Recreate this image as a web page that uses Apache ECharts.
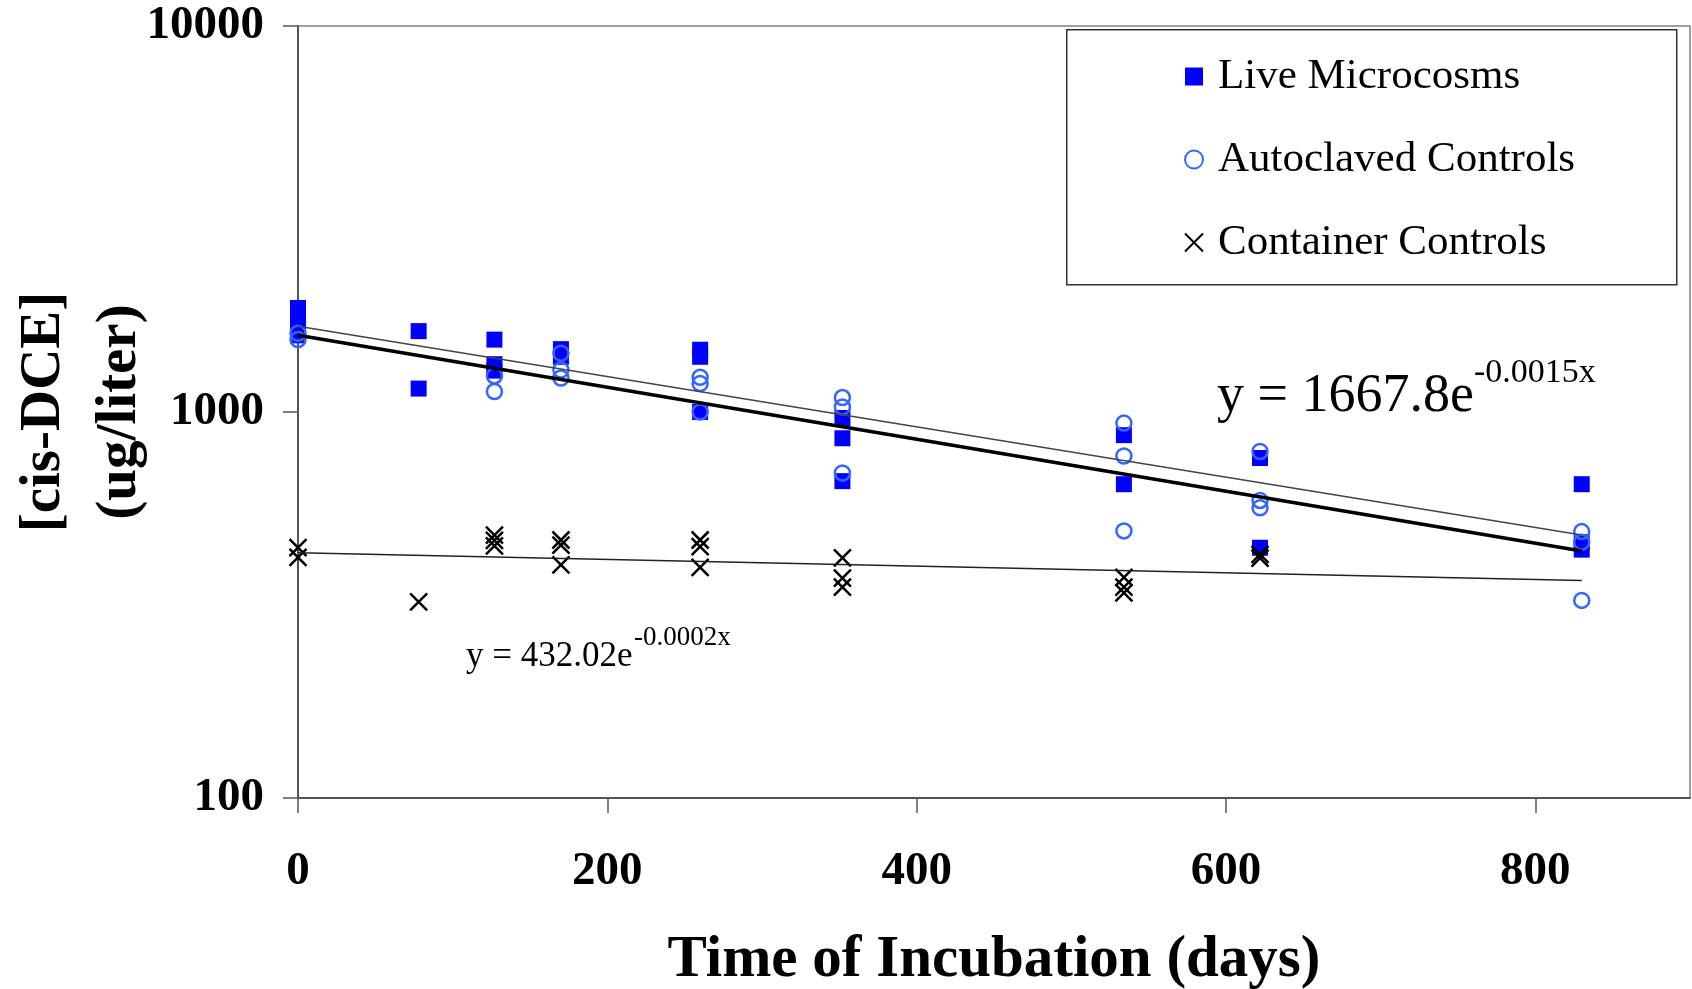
<!DOCTYPE html>
<html><head><meta charset="utf-8">
<script src="https://cdn.jsdelivr.net/npm/echarts@6/dist/echarts.min.js"></script>
<style>html,body{margin:0;padding:0;background:#fff}#c{width:1692px;height:989px}</style>
</head><body><div id="c"></div>
<script>
// ---- data ----
const xTicks = [0, 200, 400, 600, 800];
const yTicks = [100, 1000, 10000];

const liveDays   = [0,0,0, 78,78, 127,127,127, 170,170, 260,260,260, 352,352,352, 534,534, 622,622, 830,830,830];
const liveValues = [1860,1720,1580, 1620,1150, 1540,1330,1280, 1455,1390, 1450,1390,1000, 965,855,662, 871,650, 760,445, 650,460,440];

const autoDays   = [0,0, 127,127, 170,170,170, 260,260,260, 352,352,352, 534,534,534, 622,622,622, 830,830,830];
const autoValues = [1600,1540, 1240,1130, 1420,1285,1225, 1230,1185,1000, 1090,1030,695, 936,769,492, 790,590,565, 490,460,325];

const contDays   = [0,0, 78, 127,127,127, 170,170,170, 260,260,260, 352,352,352, 534,534,534, 622,622];
const contValues = [445,420, 322, 480,465,450, 466,452,402, 466,448,396, 419,371,352, 373,352,340, 428,418];

// exponential fits y = a * e^(b x), drawn over the fitted day range
const fitRange = [0, 830];
const liveFit = [1667.8, -0.0015];
const autoFit = [1580, -0.00155];
const contFit = [432.02, -0.0002];

const pairs = (xs, ys) => xs.map((x, i) => [x, ys[i]]);
const fitLine = f => fitRange.map(x => [x, f[0] * Math.exp(f[1] * x)]);

const FONT = "'Liberation Serif','Times New Roman',serif";
const chart = echarts.init(document.getElementById('c'), null, {renderer: 'canvas'});

chart.setOption({
  backgroundColor: '#fff',
  animation: false,
  grid: {left: 298, right: 2, top: 26, bottom: 191, containLabel: false, outerBoundsMode: 'none',
         show: true, borderColor: '#808080', borderWidth: 1.5},
  legend: {
    orient: 'vertical', left: 1179, top: 50, itemGap: 40,
    itemWidth: 18, itemHeight: 18,
    textStyle: {fontFamily: FONT, fontSize: 43, color: '#000', lineHeight: 43, padding: [0, 0, 0, 10]},
    data: ['Live Microcosms', 'Autoclaved Controls', 'Container Controls']
  },
  xAxis: {
    type: 'value', min: 0, max: 900, interval: 200,
    name: 'Time of Incubation (days)', nameLocation: 'middle', nameGap: 133, nameMoveOverlap: false,
    nameTextStyle: {fontFamily: FONT, fontSize: 59, fontWeight: 'bold', color: '#000'},
    axisLine: {lineStyle: {color: '#555', width: 2}},
    axisTick: {length: 15, lineStyle: {color: '#555', width: 1.5}, customValues: xTicks},
    axisLabel: {customValues: xTicks, margin: 50, fontFamily: FONT, fontSize: 47, fontWeight: 'bold', color: '#000'},
    splitLine: {show: false}
  },
  yAxis: {
    type: 'log', logBase: 10, min: 100, max: 10000,
    name: '[cis-DCE]\n(ug/liter)', nameLocation: 'middle', nameRotate: 90, nameGap: 140, nameMoveOverlap: false,
    nameTextStyle: {fontFamily: FONT, fontSize: 57, fontWeight: 'bold', color: '#000', lineHeight: 76},
    axisLine: {show: true, lineStyle: {color: '#555', width: 2}},
    axisTick: {length: 15, lineStyle: {color: '#555', width: 1.5}, customValues: yTicks},
    axisLabel: {customValues: yTicks, margin: 34, fontFamily: FONT, fontSize: 47, fontWeight: 'bold', color: '#000',
      formatter: v => String(Math.round(v))},
    splitLine: {show: false}, minorTick: {show: false}
  },
  series: [
    {name: 'Live Microcosms', type: 'scatter', z: 2, symbol: 'rect', symbolSize: 16,
     itemStyle: {color: '#0000ff', opacity: 1}, data: pairs(liveDays, liveValues)},
    {name: 'Autoclaved Controls', type: 'scatter', z: 3, symbol: 'circle', symbolSize: 15,
     itemStyle: {color: 'rgba(0,0,0,0)', borderColor: '#3366ff', borderWidth: 2.5, opacity: 1}, data: pairs(autoDays, autoValues)},
    {name: 'Container Controls', type: 'scatter', z: 4, symbol: 'path://M0,0L10,10M10,0L0,10', symbolSize: 17,
     itemStyle: {color: 'rgba(0,0,0,0)', borderColor: '#000', borderWidth: 2.5, opacity: 1}, data: pairs(contDays, contValues)},
    {name: 'live fit', type: 'line', z: 5, symbol: 'none', silent: true,
     lineStyle: {color: '#444', width: 1.5}, data: fitLine(liveFit)},
    {name: 'autoclaved fit', type: 'line', z: 5, symbol: 'none', silent: true,
     lineStyle: {color: '#000', width: 3.5}, data: fitLine(autoFit)},
    {name: 'container fit', type: 'line', z: 5, symbol: 'none', silent: true,
     lineStyle: {color: '#222', width: 1.5}, data: fitLine(contFit)}
  ],
  graphic: [
    {type: 'rect', left: 1066, top: 29, shape: {width: 610, height: 255}, z: -1,
     style: {fill: '#fff', stroke: '#333', lineWidth: 1.5}},
    {type: 'text', x: 1217, y: 397, style: {text: 'y = 1667.8e', font: "54px 'Liberation Serif'", fill: '#000', verticalAlign: 'middle'}},
    {type: 'text', x: 1474, y: 373, style: {text: '-0.0015x', font: "34px 'Liberation Serif'", fill: '#000', verticalAlign: 'middle'}},
    {type: 'text', x: 466, y: 657, style: {text: 'y = 432.02e', font: "35px 'Liberation Serif'", fill: '#000', verticalAlign: 'middle'}},
    {type: 'text', x: 634, y: 638, style: {text: '-0.0002x', font: "27px 'Liberation Serif'", fill: '#000', verticalAlign: 'middle'}}
  ]
});
</script></body></html>
